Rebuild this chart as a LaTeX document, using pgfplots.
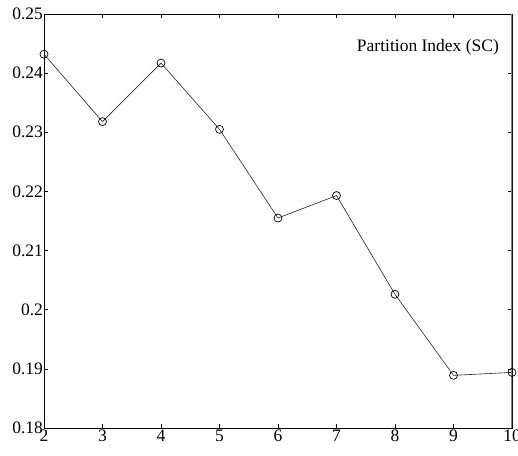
\documentclass[border=0pt]{standalone}
\usepackage{fontspec}
\setmainfont{Liberation Serif}
\usepackage{pgfplots}
\pgfplotsset{compat=1.18}
\begin{document}
\begin{tikzpicture}
\begin{axis}[
  scale only axis, width=468pt, height=414pt,
  xmin=2, xmax=10, ymin=0.18, ymax=0.25,
  xtick={2,3,4,5,6,7,8,9,10},
  ytick={0.18,0.19,0.2,0.21,0.22,0.23,0.24,0.25},
  yticklabels={0.18,0.19,0.2,0.21,0.22,0.23,0.24,0.25},
  tick align=inside, xtick pos=both, ytick pos=both,
  major tick length=4pt,
  axis line style={black, line width=0.8pt},
  tick style={black, line width=0.6pt},
  scaled y ticks=false,
  /pgf/number format/assume math mode=true,
  tick label style={font=\fontsize{17.5}{19}\selectfont},
  xticklabel style={yshift=1.5pt},
  yticklabel style={xshift=2.5pt},
]
\addplot[black!85, line width=0.6pt, mark=o, mark size=4pt, mark options={black, line width=0.7pt}]
coordinates {(2,0.2432) (3,0.2318) (4,0.2417) (5,0.2305) (6,0.2155) (7,0.2193) (8,0.2026) (9,0.1889) (10,0.1894)};
\node[anchor=east, inner sep=0pt, font=\fontsize{17.5}{19}\selectfont] at (axis cs:9.78,0.2444) {Partition Index (SC)};
\draw[gray, line width=1.5pt] (rel axis cs:1,0) -- (rel axis cs:1,1);
\path (rel axis cs:0,0) ++(-44pt,-28pt) coordinate (bl);
\path (rel axis cs:1,1) ++(6pt,14pt) coordinate (tr);
\end{axis}
\pgfresetboundingbox
\path[use as bounding box] (bl) rectangle (tr);
\end{tikzpicture}
\end{document}
